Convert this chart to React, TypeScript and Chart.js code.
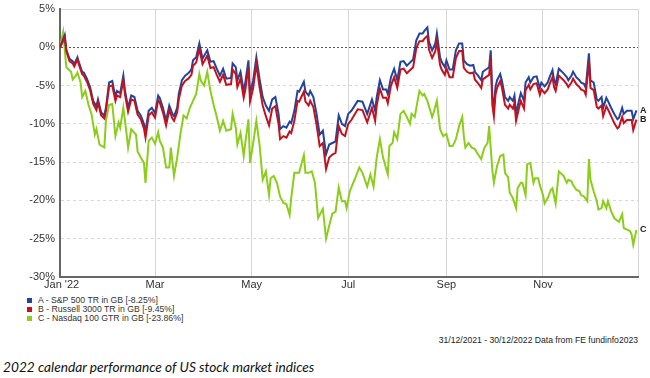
import React, { useEffect, useRef } from 'react';
import { Chart, registerables } from 'chart.js';

Chart.register(...registerables);

// Day index: 0 = 31 Dec 2021, 365 = 31 Dec 2022
const abDays = [
  0, 3, 4, 6, 8, 9, 11, 12, 14, 15,
  17, 19, 21, 23, 24, 26, 28, 29, 31, 33,
  35, 36, 38, 40, 41, 43, 45, 47, 49, 51,
  53, 54, 56, 58, 60, 62, 63, 65, 67, 69,
  71, 72, 74, 75, 77, 79, 81, 83, 84, 86,
  88, 90, 93, 95, 97, 99, 101, 103, 105, 108,
  109, 111, 112, 114, 116, 117, 119, 120, 122, 124,
  126, 128, 130, 132, 134, 136, 138, 139, 141, 143,
  145, 146, 148, 150, 151, 154, 155, 157, 158, 160,
  162, 164, 166, 168, 170, 172, 174, 176, 178, 180,
  182, 184, 188, 191, 194, 197, 199, 200, 202, 204,
  206, 207, 209, 211, 213, 215, 217, 219, 221, 223,
  225, 227, 229, 230, 232, 233, 235, 237, 238, 240,
  241, 243, 244, 246, 248, 250, 252, 254, 255, 257,
  259, 261, 262, 264, 266, 267, 269, 271, 272, 273,
  274, 275, 276, 278, 279, 281, 283, 284, 286, 287,
  288, 290, 291, 293, 294, 296, 297, 299, 301, 303,
  304, 306, 308, 309, 311, 312, 313, 315, 316, 318,
  320, 321, 323, 324, 326, 328, 329, 331, 332, 334,
  335, 337, 339, 340, 342, 343, 345, 346, 348, 350,
  352, 353, 355, 356, 358, 360, 361, 362, 364,
];

const sp500Values = [
  0, 1.6, -0.3, -1.5, -1.8, -2.2, -1.3, -2.0, -3.2, -3.3,
  -4.1, -5.2, -7.0, -7.7, -6.8, -8.5, -8.9, -7.9, -4.6, -4.4,
  -6.5, -5.7, -6.0, -3.7, -5.6, -7.9, -6.3, -6.5, -8.3, -8.9,
  -10.0, -11.0, -8.3, -7.9, -8.6, -6.3, -6.6, -7.9, -9.6, -7.6,
  -8.7, -9.0, -7.9, -6.1, -4.3, -3.7, -3.4, -2.9, -1.7, -1.3,
  0.5, -1.5, -0.4, -1.9, -1.8, -2.8, -3.7, -2.8, -4.1, -4.0,
  -2.1, -2.6, -4.3, -3.2, -5.7, -4.6, -1.7, -6.1, -4.3, -1.3,
  -4.1, -6.5, -7.6, -8.3, -6.8, -6.5, -8.7, -10.7, -10.3, -10.5,
  -9.7, -9.9, -8.3, -5.7, -5.8, -4.5, -5.8, -6.3, -5.7, -6.5,
  -8.7, -11.4, -10.9, -14.0, -12.7, -12.5, -12.3, -8.9, -10.0, -10.3,
  -8.7, -8.3, -7.0, -7.1, -8.7, -6.8, -8.3, -6.5, -4.3, -5.5,
  -5.5, -6.1, -3.9, -2.8, -4.3, -1.9, -1.8, -2.4, -2.0, -1.6,
  0.9, 1.8, 1.8, 2.1, 2.6, 0.7, -0.4, 0.5, 1.8, -1.3,
  -1.9, -2.6, -1.7, -2.9, -2.9, -0.4, 0.5, 0.5, -1.7, -2.2,
  -2.4, -2.3, -3.2, -3.7, -4.3, -3.2, -2.9, -2.6, -0.4, -6.5,
  -7.6, -5.2, -4.3, -3.5, -4.3, -6.5, -7.0, -6.5, -7.0, -6.3,
  -8.7, -6.8, -6.0, -7.0, -4.6, -3.9, -4.6, -3.9, -3.8, -5.3,
  -4.6, -5.1, -4.6, -4.0, -3.0, -4.3, -4.8, -2.8, -3.0, -3.4,
  -3.9, -4.3, -3.7, -3.2, -3.9, -4.3, -4.6, -4.8, -5.3, -0.8,
  -4.3, -4.6, -6.8, -7.0, -6.5, -7.9, -6.6, -7.0, -7.9, -8.7,
  -9.4, -9.2, -7.9, -8.7, -8.3, -8.3, -8.3, -9.4, -8.25,
];

const russellValues = [
  0, 1.3, -0.5, -1.8, -2.1, -2.5, -1.6, -2.3, -3.5, -3.7,
  -4.5, -5.6, -7.4, -8.2, -7.2, -8.9, -9.3, -8.3, -5.1, -5.0,
  -7.0, -6.3, -6.5, -4.3, -6.1, -8.4, -6.8, -7.0, -8.8, -9.4,
  -10.6, -11.8, -8.9, -8.5, -9.2, -6.9, -7.2, -8.5, -10.2, -8.2,
  -9.3, -9.6, -8.5, -6.8, -5.0, -4.4, -4.1, -3.6, -2.4, -2.0,
  -0.2, -2.2, -1.1, -2.7, -2.6, -3.6, -4.5, -3.6, -4.9, -4.8,
  -2.9, -3.5, -5.2, -4.1, -6.6, -5.6, -2.6, -7.1, -5.3, -2.2,
  -5.2, -7.6, -9.0, -10.2, -8.0, -7.7, -10.0, -12.0, -11.6, -11.8,
  -11.0, -11.2, -9.6, -7.0, -7.1, -5.8, -7.1, -7.6, -7.0, -7.8,
  -10.1, -12.9, -12.5, -15.9, -14.4, -14.0, -13.8, -10.3, -11.3, -11.6,
  -10.0, -9.5, -8.1, -8.2, -9.8, -7.9, -9.6, -7.6, -5.4, -6.6,
  -6.6, -7.3, -5.0, -3.9, -5.3, -2.9, -2.8, -3.4, -3.0, -2.6,
  -0.1, 0.8, 0.8, 1.1, 1.5, -0.3, -1.4, -0.5, 0.8, -2.3,
  -2.9, -3.6, -2.7, -3.9, -3.9, -1.4, -0.5, -0.5, -2.7, -3.2,
  -3.4, -3.3, -4.2, -4.7, -5.3, -4.2, -3.9, -3.6, -1.3, -7.5,
  -9.0, -6.2, -5.3, -4.4, -5.2, -7.5, -8.0, -7.5, -8.0, -7.3,
  -9.6, -7.8, -7.0, -8.0, -5.6, -4.9, -5.5, -4.8, -4.7, -6.2,
  -5.5, -6.0, -5.5, -4.9, -3.9, -5.2, -5.7, -3.7, -3.9, -4.3,
  -4.8, -5.2, -4.6, -4.1, -4.8, -5.2, -5.5, -5.7, -6.2, -1.8,
  -5.3, -5.6, -7.8, -8.0, -7.6, -9.0, -7.7, -8.1, -9.0, -9.9,
  -10.6, -10.4, -9.1, -9.9, -9.5, -9.5, -9.5, -10.8, -9.45,
];

const nasdaqDays = [
  0, 2, 4, 7, 8, 10, 11, 13, 14, 16,
  18, 20, 22, 23, 25, 28, 29, 31, 33, 35,
  37, 38, 40, 42, 43, 45, 48, 49, 51, 53,
  54, 56, 58, 60, 62, 63, 65, 67, 69, 70,
  72, 74, 76, 78, 80, 82, 84, 86, 88, 89,
  91, 93, 95, 97, 99, 101, 103, 105, 108, 109,
  111, 112, 114, 116, 117, 119, 120, 122, 124, 126,
  128, 130, 132, 133, 135, 137, 139, 141, 143, 145,
  146, 148, 151, 154, 155, 157, 159, 161, 163, 166,
  168, 170, 172, 174, 176, 178, 180, 181, 183, 186,
  189, 191, 194, 196, 198, 200, 202, 204, 207, 208,
  210, 211, 213, 215, 217, 219, 221, 222, 224, 226,
  227, 229, 230, 232, 235, 236, 238, 240, 242, 244,
  246, 248, 250, 252, 254, 255, 256, 258, 260, 262,
  264, 266, 268, 270, 271, 273, 274, 276, 278, 280,
  281, 283, 284, 286, 288, 289, 291, 292, 294, 295,
  297, 299, 300, 302, 303, 305, 306, 308, 310, 311,
  313, 315, 316, 318, 320, 321, 323, 324, 326, 328,
  329, 331, 333, 334, 335, 337, 339, 340, 342, 343,
  345, 346, 348, 350, 351, 353, 355, 356, 358, 360,
  361, 362, 364,
];

const nasdaqValues = [
  0, 2.0, -2.6, -3.2, -4.2, -3.7, -3.3, -4.6, -6.5, -5.7,
  -7.5, -8.8, -11.4, -10.7, -12.7, -13.1, -9.6, -7.5, -7.4, -11.6,
  -9.8, -10.5, -7.9, -11.2, -13.1, -10.7, -11.4, -13.6, -14.4, -15.1,
  -17.7, -12.2, -11.8, -12.6, -11.1, -12.2, -13.1, -15.7, -15.7, -13.1,
  -16.8, -14.4, -11.4, -8.9, -9.3, -7.9, -7.0, -6.1, -3.5, -4.4,
  -5.0, -3.2, -5.7, -7.5, -9.1, -10.9, -9.6, -10.9, -10.7, -8.7,
  -10.5, -12.7, -11.2, -14.2, -12.5, -9.4, -15.1, -12.5, -9.6, -12.7,
  -17.3, -16.2, -19.3, -17.1, -16.8, -17.7, -19.5, -20.3, -20.5, -21.9,
  -19.7, -16.4, -16.4, -14.1, -16.4, -16.4, -16.2, -17.7, -22.3, -21.1,
  -25.0, -23.3, -21.7, -21.5, -18.3, -20.1, -20.1, -21.0, -18.8, -17.3,
  -15.7, -16.4, -18.2, -16.6, -18.2, -14.4, -12.0, -14.4, -16.6, -12.9,
  -12.5, -11.1, -12.0, -8.7, -8.3, -9.1, -10.0, -8.7, -9.1, -6.8,
  -5.7, -6.3, -6.1, -7.0, -9.1, -8.5, -7.0, -10.7, -11.6, -11.3,
  -12.9, -12.9, -12.0, -10.3, -9.1, -11.6, -13.1, -12.5, -13.1, -13.3,
  -14.0, -14.6, -13.1, -12.5, -10.3, -16.0, -17.7, -15.5, -14.2, -14.0,
  -16.4, -17.0, -19.0, -19.7, -21.0, -18.4, -17.7, -17.7, -19.3, -15.3,
  -15.1, -17.7, -17.1, -17.1, -18.0, -19.3, -20.4, -19.7, -18.6, -18.4,
  -20.4, -16.2, -16.4, -16.8, -17.7, -17.3, -17.5, -18.0, -18.6, -18.8,
  -19.3, -19.5, -20.1, -14.6, -17.3, -18.8, -20.1, -21.2, -21.0, -20.1,
  -21.0, -20.1, -21.4, -22.3, -22.5, -22.8, -21.8, -23.6, -23.8, -24.0,
  -24.5, -25.8, -23.86,
];

const xTickDays = [1, 60, 121, 182, 244, 305, 365];
const xTickLabels = ["Jan '22", 'Mar', 'May', 'Jul', 'Sep', 'Nov', ''];

const seriesShort = ['A', 'B', 'C'];
const seriesNames = [
  'A - S&P 500 TR in GB [-8.25%]',
  'B - Russell 3000 TR in GB [-9.45%]',
  'C - Nasdaq 100 GTR in GB [-23.86%]',
];
const seriesColors = ['#22449a', '#c3121f', '#8ccd1c'];

const footerText = '31/12/2021 - 30/12/2022 Data from FE fundinfo2023';
const captionText = '2022 calendar performance of US stock market indices';

const FONT = '"Liberation Sans", Arial, sans-serif';

export default function App() {
  const canvasRef = useRef<HTMLCanvasElement>(null);

  useEffect(() => {
    document.body.style.margin = '0';
    const canvas = canvasRef.current;
    if (!canvas) return;

    const endLabels = {
      id: 'endLabels',
      afterDatasetsDraw(chart: any) {
        const { ctx, chartArea } = chart;
        ctx.save();
        ctx.font = 'bold 9px ' + FONT;
        ctx.fillStyle = '#222';
        ctx.textBaseline = 'middle';
        ctx.textAlign = 'left';
        chart.data.datasets.forEach((_ds: any, i: number) => {
          const meta = chart.getDatasetMeta(i);
          const pt = meta.data[meta.data.length - 1];
          if (pt) ctx.fillText(seriesShort[i], chartArea.right + 2, pt.y);
        });
        ctx.restore();
      },
    };

    const mk = (days: number[], vals: number[]) => days.map((d, i) => ({ x: d, y: vals[i] }));

    const chart = new Chart(canvas, {
      type: 'line',
      data: {
        datasets: [
          { label: seriesNames[0], data: mk(abDays, sp500Values), borderColor: seriesColors[0], borderWidth: 2, pointRadius: 0, order: 1 },
          { label: seriesNames[1], data: mk(abDays, russellValues), borderColor: seriesColors[1], borderWidth: 2, pointRadius: 0, order: 0 },
          { label: seriesNames[2], data: mk(nasdaqDays, nasdaqValues), borderColor: seriesColors[2], borderWidth: 2, pointRadius: 0, order: 2 },
        ],
      },
      options: {
        responsive: false,
        animation: false,
        devicePixelRatio: 1,
        layout: { padding: { left: 0, right: 12, top: 9, bottom: 0 } },
        plugins: { legend: { display: false }, tooltip: { enabled: false } },
        elements: { line: { tension: 0 } },
        scales: {
          x: {
            type: 'linear',
            min: 0,
            max: 365,
            afterBuildTicks: (scale: any) => {
              scale.ticks = xTickDays.map((v) => ({ value: v }));
            },
            afterFit: (scale: any) => {
              scale.height = 13;
            },
            ticks: {
              autoSkip: false,
              maxRotation: 0,
              padding: 1,
              color: '#333',
              font: { family: FONT, size: 11 },
              callback: (_v: any, i: number) => xTickLabels[i],
            },
            grid: {
              drawTicks: false,
              lineWidth: 1,
              color: (c: any) => (c.tick && c.tick.value === xTickDays[0] ? 'rgba(0,0,0,0)' : '#d6d6d6'),
            },
            border: { display: true, color: '#666', width: 2 },
          },
          y: {
            min: -30,
            max: 5,
            afterFit: (scale: any) => {
              scale.width = 60;
            },
            ticks: {
              stepSize: 5,
              padding: 5,
              color: '#333',
              font: { family: FONT, size: 11, lineHeight: 0.4 },
              callback: (v: any) => v + '%',
            },
            grid: {
              drawTicks: false,
              lineWidth: 1,
              color: (c: any) => {
                if (!c.tick) return '#d6d6d6';
                if (c.tick.value === 0) return '#555';
                return '#d6d6d6';
              },
            },
            border: {
              display: true,
              color: '#666',
              width: 2,
              dash: (c: any) => {
                if (!c.tick) return [];
                if (c.tick.value === 5) return [];
                if (c.tick.value === 0) return [2, 2];
                return [3, 3];
              },
            },
          },
        },
      },
      plugins: [endLabels],
    } as any);

    return () => chart.destroy();
  }, []);

  return (
    <div style={{ position: 'relative', width: 650, height: 378, background: '#fff', overflow: 'hidden', fontFamily: FONT }}>
      <canvas ref={canvasRef} width={650} height={290} style={{ position: 'absolute', left: 0, top: 0, width: 650, height: 290 }} />
      <div style={{ position: 'absolute', left: 27, top: 296 }}>
        {seriesNames.map((name, i) => (
          <div key={name} style={{ display: 'flex', alignItems: 'center', height: 9, fontSize: 8.7, lineHeight: '9px', color: '#333' }}>
            <span style={{ display: 'inline-block', width: 5, height: 5, background: seriesColors[i], marginRight: 6 }} />
            <span>{name}</span>
          </div>
        ))}
      </div>
      <div style={{ position: 'absolute', right: 12, top: 335, fontSize: 8.6, lineHeight: '10px', color: '#222', whiteSpace: 'nowrap' }}>
        {footerText}
      </div>
      <div style={{ position: 'absolute', left: 3, top: 359, fontSize: 13.7, lineHeight: '16px', fontStyle: 'italic', fontFamily: 'Lato, "Open Sans", sans-serif', color: '#111', whiteSpace: 'nowrap' }}>
        {captionText}
      </div>
    </div>
  );
}
